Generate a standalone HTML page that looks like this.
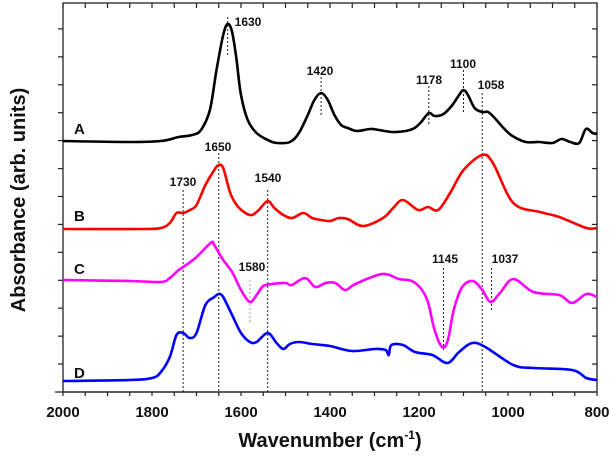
<!DOCTYPE html>
<html><head><meta charset="utf-8"><style>
html,body{margin:0;padding:0;background:#fff;}
svg{display:block;font-family:"Liberation Sans",Arial,sans-serif;}
</style></head><body>
<svg id="chart" width="613" height="464" viewBox="0 0 613 464"></svg>
<script>
const wnA=[2000,1850,1780,1740,1710,1690,1670,1655,1640,1630,1620,1610,1600,1585,1565,1540,1520,1490,1470,1450,1435,1420,1405,1390,1375,1360,1340,1310,1290,1260,1230,1210,1195,1178,1165,1145,1125,1110,1100,1090,1075,1058,1045,1030,1010,990,960,930,900,880,860,840,825,810,800];
const absA=[251,250,251,255,257,262,282,322,357,368,360,332,297,272,259,252,249,250,259,277,292,299,292,277,267,264,261,263,262,260,261,264,270,279,276,278,287,297,302,297,284,280,280,274,264,256,250,250,249,253,250,249,263,259,258];
const wnB=[2000,1820,1780,1760,1745,1730,1715,1700,1680,1660,1650,1640,1625,1610,1590,1575,1560,1540,1525,1505,1485,1460,1440,1420,1400,1380,1360,1326,1281,1258,1236,1202,1180,1157,1130,1100,1058,1034,988,928,885,824,800];
const absB=[163,163,164,169,179,179,182,187,207,222,227,224,200,187,179,177,182,191,184,177,174,179,174,172,171,174,173,166,174,184,192,182,185,182,199,222,237,229,189,180,175,164,164];
const wnC=[2000,1850,1780,1760,1740,1720,1700,1680,1665,1660,1640,1620,1600,1580,1565,1550,1530,1500,1486,1456,1433,1410,1388,1366,1343,1283,1245,1216,1195,1180,1165,1148,1135,1122,1103,1079,1058,1039,1018,988,943,885,856,824,800];
const absC=[112,111,110,114,122,128,135,144,150,147,132,120,102,90,97,106,108,109,107,114,105,109,109,102,108,118,113,111,103,90,62,45,52,82,105,111,102,90,99,113,100,97,89,98,95];
const wnD=[2000,1850,1800,1780,1760,1745,1730,1715,1700,1680,1660,1650,1640,1620,1600,1580,1565,1540,1520,1505,1490,1470,1440,1400,1351,1299,1275,1268,1262,1236,1209,1170,1136,1110,1081,1051,988,943,856,824,800];
const absD=[11,12,14,20,35,57,59,54,59,87,95,98,95,77,59,50,50,59,49,43,48,50,48,46,41,43,42,37,47,47,40,37,29,40,49,45,27,24,22,14,12];
const xTicks=[2000,1800,1600,1400,1200,1000,800];
const peakWn=[1630,1420,1178,1100,1058,1650,1730,1540,1580,1145,1037];
const peakLabel=["1630","1420","1178","1100","1058","1650","1730","1540","1580","1145","1037"];

const L=63,R=597,T=3,B=392;
const x=w=>L+(2000-w)/(2000-800)*(R-L);
const y=v=>B-v;
const NS="http://www.w3.org/2000/svg";
const svg=document.getElementById('chart');
function mk(tag,attrs,parent){const e=document.createElementNS(NS,tag);for(const k in attrs)e.setAttribute(k,attrs[k]);(parent||svg).appendChild(e);return e;}

const frame=mk('rect',{x:L,y:T,width:R-L,height:B-T,fill:'none',stroke:'#222','stroke-width':1.3});


const xaxis=mk('line',{x1:55,y1:B,x2:R,y2:B,stroke:'#222','stroke-width':1.3});



for(let w=2000;w>=800;w-=50){
  const t=mk('line',{x1:x(w),y1:B,x2:x(w),y2:B+4,stroke:'#222','stroke-width':1.2});
  
  
  const t2=mk('line',{x1:x(w),y1:T,x2:x(w),y2:T+5,stroke:'#222','stroke-width':1.2});
  
  
}
for(let k=1;k<14;k++){
  const yy=B-k*27.93;
  const t=mk('line',{x1:L-5,y1:yy,x2:L,y2:yy,stroke:'#222','stroke-width':1.2});
  
  
  const t2=mk('line',{x1:R-5,y1:yy,x2:R,y2:yy,stroke:'#222','stroke-width':1.2});
  
  
}
xTicks.forEach(w=>{
  const t=mk('text',{x:x(w),y:417,'text-anchor':'middle','font-size':15,'font-weight':'bold',fill:'#111'});
  t.textContent=String(w);
  
  
});

const lineSpans=[[17,55],[77,117],[86,126],[70,112],[93,392],[153,392],[190,392],[190,392],[280,322],[268,350],[268,312]];
const labelPos=[[248,26,'middle'],[320,75,'middle'],[429,84,'middle'],[463,68,'middle'],[491,89,'middle'],[218,151,'middle'],[183,186,'middle'],[268,182,'middle'],[252,271,'middle'],[445,263,'middle'],[505,263,'middle']];
peakWn.forEach((w,i)=>{
  const ln=mk('line',{x1:x(w),y1:lineSpans[i][0],x2:x(w),y2:lineSpans[i][1],stroke:i===8?'#999':'#222','stroke-width':1,'stroke-dasharray':'2,2'});
  
  
  const t=mk('text',{x:labelPos[i][0],y:labelPos[i][1],'text-anchor':labelPos[i][2],'font-size':12,'font-weight':'bold',fill:'#111'});
  t.textContent=peakLabel[i];
  
  
});

function pathFor(wn,ab){
  const p=wn.map((w,i)=>[x(w),y(ab[i])]);
  let d='M'+p[0][0].toFixed(1)+','+p[0][1].toFixed(1);
  for(let i=0;i<p.length-1;i++){
    const p0=p[Math.max(0,i-1)],p1=p[i],p2=p[i+1],p3=p[Math.min(p.length-1,i+2)];
    const c1=[p1[0]+(p2[0]-p0[0])/6,p1[1]+(p2[1]-p0[1])/6];
    const c2=[p2[0]-(p3[0]-p1[0])/6,p2[1]-(p3[1]-p1[1])/6];
    d+='C'+c1[0].toFixed(1)+','+c1[1].toFixed(1)+' '+c2[0].toFixed(1)+','+c2[1].toFixed(1)+' '+p2[0].toFixed(1)+','+p2[1].toFixed(1);
  }
  return d;
}
const series=[[wnA,absA,'#000','A',129,'spectrum-a'],[wnB,absB,'#ff0000','B',216,'spectrum-b'],[wnC,absC,'#ff00ff','C',269,'spectrum-c'],[wnD,absD,'#0000ff','D',373,'spectrum-d']];
series.forEach(s=>{
  const pth=mk('path',{d:pathFor(s[0],s[1]),fill:'none',stroke:s[2],'stroke-width':2.6,'stroke-linejoin':'round'});
  
  
  const t=mk('text',{x:74,y:s[4]+5,'font-size':15,'font-weight':'bold',fill:'#111'});
  t.textContent=s[3];
  
  
});

const xt=mk('text',{x:330,y:447,'text-anchor':'middle','font-size':20,'font-weight':'bold',fill:'#111'});
xt.innerHTML='Wavenumber (cm<tspan dy="-8" font-size="12">-1</tspan><tspan dy="8">)</tspan>';


const yt=mk('text',{x:0,y:0,'text-anchor':'middle','font-size':20,'font-weight':'bold',fill:'#111',transform:'translate(25,200) rotate(-90)'});
yt.textContent='Absorbance (arb. units)';


</script>
</body></html>
